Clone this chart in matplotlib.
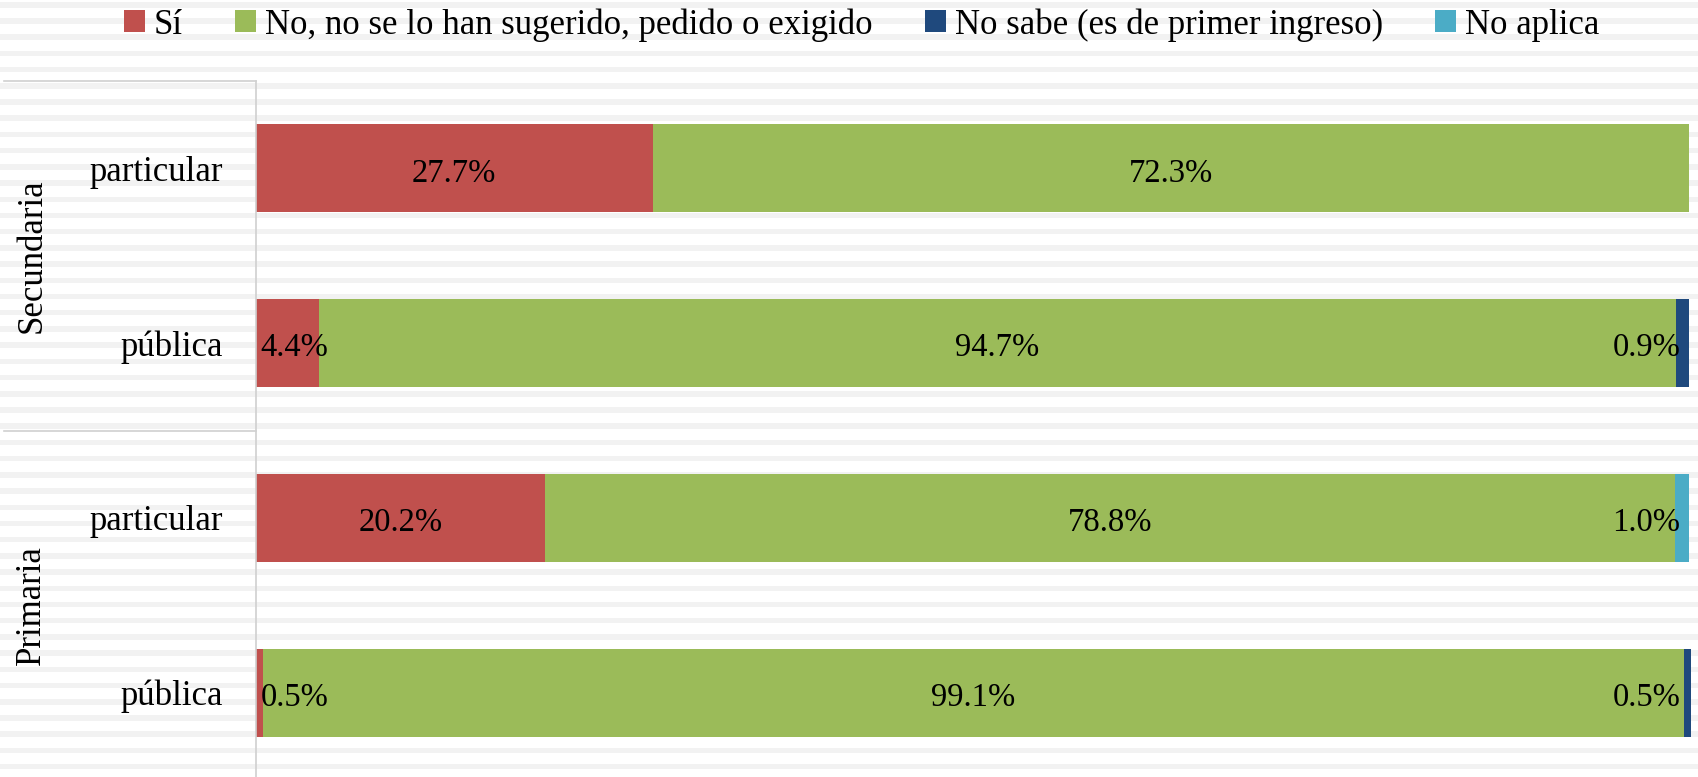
import numpy as np
import matplotlib.pyplot as plt
from matplotlib.patches import Patch

plt.rcParams['font.family'] = ['Liberation Serif', 'DejaVu Serif']

# Data
rows = ['particular', 'pública', 'particular', 'pública']
groups = ['Secundaria', 'Primaria']
series = ['Sí', 'No, no se lo han sugerido, pedido o exigido',
          'No sabe (es de primer ingreso)', 'No aplica']
si = [27.7, 4.4, 20.2, 0.5]
no = [72.3, 94.7, 78.8, 99.1]
no_sabe = [0.0, 0.9, 0.0, 0.5]
no_aplica = [0.0, 0.0, 1.0, 0.0]
colors = ['#C0504D', '#9BBB59', '#1F497D', '#4BACC6']

W, H = 1698, 777
fig = plt.figure(figsize=(W / 100, H / 100), dpi=100)

# striped background
bg = fig.add_axes([0, 0, 1, 1], zorder=0)
bg.set_xlim(0, 1)
bg.set_ylim(H, 0)
for y0 in np.arange(2, H, 16.21):
    bg.axhspan(y0, y0 + 5.5, color='#f2f2f2', lw=0)
bg.axis('off')

ax = fig.add_axes([255.6 / W, -3 / H, 1433.7 / W, 699 / H], zorder=1)
ax.patch.set_alpha(0)

y = np.arange(len(rows))
left = np.zeros(len(rows))
for vals, c in zip([si, no, no_sabe, no_aplica], colors):
    vals = np.array(vals)
    ax.barh(y, vals, left=left, height=0.505, color=c, lw=0, clip_on=False)
    for yi, v, l in zip(y, vals, left):
        if v <= 0:
            continue
        txt = f'{v:.1f}%'
        mid = l + v / 2
        # keep small labels inside the plot area, like Excel does
        if mid < 3:
            xy, dx, ha = (0, yi), 5, 'left'
        elif mid > 97:
            xy, dx, ha = (100, yi), -9, 'right'
        else:
            xy, dx, ha = (mid, yi), 0, 'center'
        ax.annotate(txt, xy, xytext=(dx, -5), textcoords='offset pixels',
                    ha=ha, va='center', fontsize=23.5)
    left += vals

ax.set_xlim(0, 100)
ax.set_ylim(3.5, -0.5)
ax.set_xticks([])
ax.set_yticks(y)
ax.set_yticklabels(rows, fontsize=25)
ax.tick_params(axis='y', length=0, pad=23.5)
for s in ['top', 'right', 'bottom']:
    ax.spines[s].set_visible(False)
ax.spines['left'].set_color('#d0d0d0')
ax.spines['left'].set_linewidth(1.2)

# group separators and labels
tr = ax.get_yaxis_transform()
for yb in [-0.5, 1.5, 3.5]:
    ax.plot([-0.1755, 0], [yb, yb], transform=tr, clip_on=False,
            color='#d0d0d0', lw=1.2)
for i, g in enumerate(groups):
    ax.text(-0.156, 2 * i + 0.5, g, transform=tr, rotation=90,
            ha='center', va='center', fontsize=25)

handles = [Patch(facecolor=c, edgecolor='none') for c in colors]
fig.legend(handles, series, loc='center', bbox_to_anchor=(0.5074, 0.968),
           ncol=4, frameon=False, fontsize=25, handlelength=0.6,
           handleheight=0.6, handletextpad=0.26, columnspacing=1.5,
           borderpad=0)

fig.savefig('out.png', dpi=100)
